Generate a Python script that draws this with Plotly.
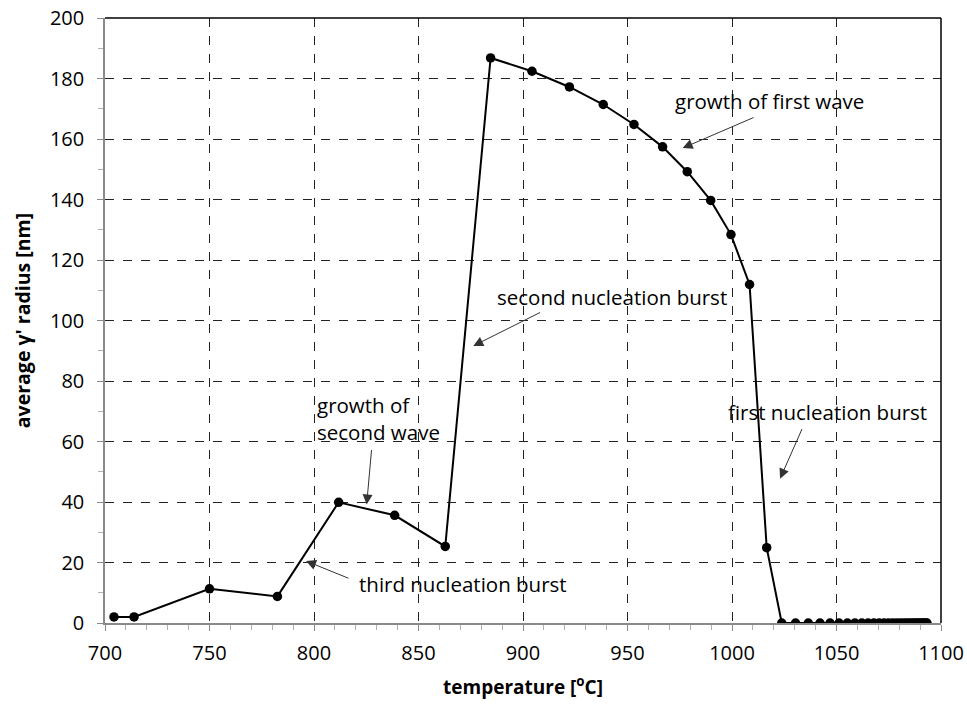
import plotly.graph_objects as go

temperature = [704.3, 713.9, 750.0, 782.5, 811.8, 838.6, 862.8, 884.5, 904.3, 922.2,
               938.4, 953.1, 966.8, 978.6, 989.8, 999.5, 1008.4, 1016.6,
               1023.8, 1030.4, 1036.5, 1042.1, 1046.9, 1051.2, 1055.2, 1058.8, 1062.1,
               1065.1, 1067.9, 1070.4, 1072.7, 1074.8, 1076.8, 1078.6, 1080.3, 1081.8,
               1083.2, 1084.5, 1085.7, 1086.8, 1087.8, 1088.8, 1089.7, 1090.5, 1091.3,
               1092.0, 1092.7, 1093.3]
radius = [2.0, 2.0, 11.3, 8.8, 39.9, 35.6, 25.3, 186.8, 182.4, 177.2,
          171.4, 164.8, 157.4, 149.2, 139.7, 128.4, 111.9, 24.9,
          0, 0, 0, 0, 0, 0, 0, 0, 0,
          0, 0, 0, 0, 0, 0, 0, 0, 0,
          0, 0, 0, 0, 0, 0, 0, 0, 0,
          0, 0, 0]

x_ticks = [700, 750, 800, 850, 900, 950, 1000, 1050, 1100]
y_ticks = [0, 20, 40, 60, 80, 100, 120, 140, 160, 180, 200]

# annotation texts: (label, text x, text y, arrow tail x, tail y, head x, head y)
notes = [
    ("growth of first wave", 1017.9, 172.7, 1011.0, 167.3, 976.4, 157.0),
    ("second nucleation burst", 942.6, 107.9, 908.9, 102.9, 876.2, 91.6),
    ("first nucleation burst", 1045.9, 69.8, 1033.8, 64.6, 1023.0, 47.7),
    ("third nucleation burst", 871.4, 13.0, 817.2, 14.6, 796.2, 20.5),
]
second_wave_note = ("growth of<br>second wave", 800.5, 67.7, 827.6, 57.7, 825.2, 39.2)

FONT = "Open Sans"
NOTE_SIZE = 20.5

fig = go.Figure()
fig.add_trace(go.Scatter(
    x=temperature, y=radius, mode="lines+markers",
    line=dict(color="black", width=2),
    marker=dict(color="black", size=9.5),
    showlegend=False,
))

annotations = []
for label, tx, ty, ax, ay, hx, hy in notes:
    annotations.append(dict(x=tx, y=ty, xref="x", yref="y", text=label, showarrow=False,
                            font=dict(family=FONT, size=NOTE_SIZE, color="black")))
    annotations.append(dict(x=hx, y=hy, ax=ax, ay=ay, xref="x", yref="y", axref="x", ayref="y",
                            text="", showarrow=True, arrowhead=2, arrowsize=2, arrowwidth=1,
                            arrowcolor="#333"))
label, tx, ty, ax, ay, hx, hy = second_wave_note
annotations.append(dict(x=tx, y=ty, xref="x", yref="y", text=label, showarrow=False,
                        xanchor="left", align="left",
                        font=dict(family=FONT, size=NOTE_SIZE, color="black")))
annotations.append(dict(x=hx, y=hy, ax=ax, ay=ay, xref="x", yref="y", axref="x", ayref="y",
                        text="", showarrow=True, arrowhead=2, arrowsize=2, arrowwidth=1,
                        arrowcolor="#333"))

fig.update_layout(
    width=967, height=706,
    margin=dict(l=105, r=26, t=18, b=83),
    plot_bgcolor="white", paper_bgcolor="white",
    font=dict(family=FONT, size=18, color="black"),
    annotations=annotations,
    shapes=[
        dict(type="line", xref="x domain", yref="y domain", x0=0, x1=1, y0=1, y1=1,
             line=dict(color="black", width=1.5)),
        dict(type="line", xref="x domain", yref="y domain", x0=1, x1=1, y0=0, y1=1,
             line=dict(color="black", width=1.5)),
    ],
)
fig.update_xaxes(
    range=[700, 1100], tickvals=x_ticks, ticktext=[str(v) for v in x_ticks],
    automargin=False,
    showline=True, linecolor="#8a8a8a", linewidth=1.5,
    ticks="outside", ticklen=6, tickcolor="#8a8a8a",
    minor=dict(dtick=10, ticks="outside", ticklen=5, tickcolor="#b0b0b0", showgrid=False),
    showgrid=True, gridcolor="#222", griddash="dash", gridwidth=1,
    zeroline=False,
    ticklabelstandoff=5,
    tickfont=dict(family=FONT, size=20),
    title=dict(text="<b>temperature [<sup>o</sup>C]</b>", font=dict(family=FONT, size=19), standoff=16),
)
fig.update_yaxes(
    range=[0, 200], tickvals=y_ticks, ticktext=[str(v) for v in y_ticks],
    automargin=False,
    showline=True, linecolor="#8a8a8a", linewidth=1.5,
    ticks="outside", ticklen=6, tickcolor="#8a8a8a",
    minor=dict(dtick=10, ticks="outside", ticklen=5, tickcolor="#b0b0b0", showgrid=False),
    showgrid=True, gridcolor="#222", griddash="dash", gridwidth=1,
    zeroline=False,
    ticklabelstandoff=9,
    tickfont=dict(family=FONT, size=20),
    title=dict(text="<b>average γ' radius [nm]</b>", font=dict(family=FONT, size=19.5), standoff=14),
)

fig.write_html("out.html")
